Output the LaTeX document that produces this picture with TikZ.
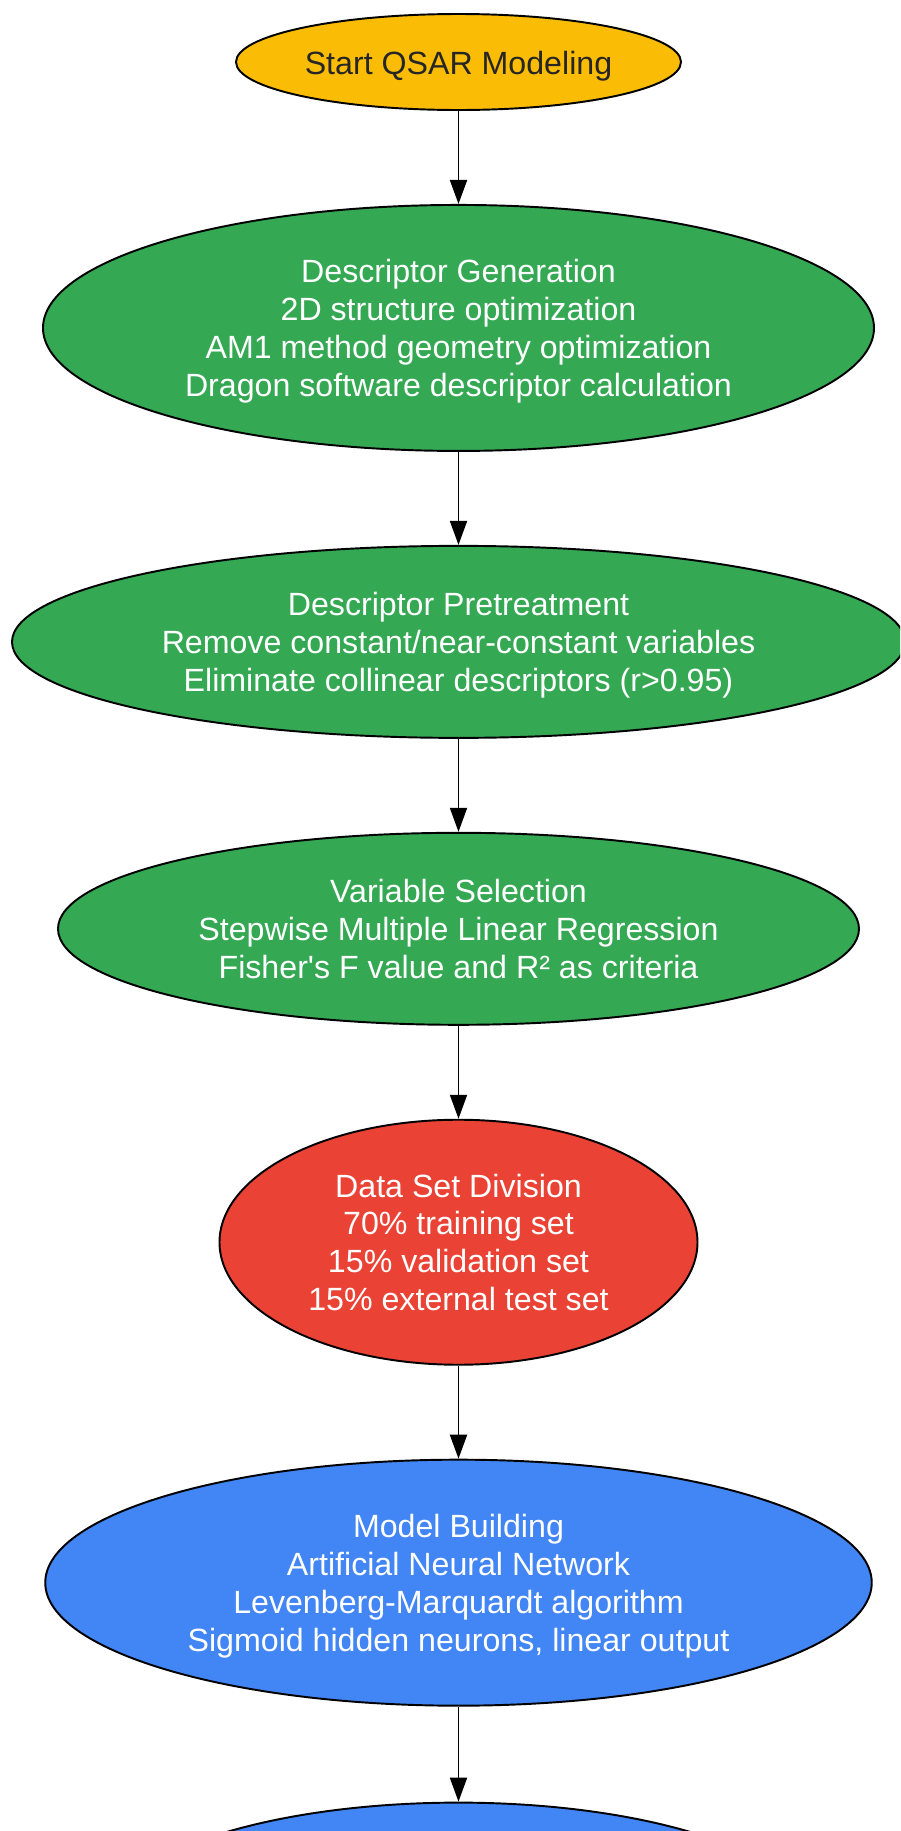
\documentclass[tikz,border=0pt]{standalone}
\usepackage{fontspec}
\setmainfont{Liberation Sans}
\usepackage{xcolor}
\usepackage{tikz}
\usetikzlibrary{positioning, shapes.geometric, arrows.meta}

\definecolor{startyellow}{HTML}{FBBC05}
\definecolor{prepgreen}{HTML}{34A853}
\definecolor{splitred}{HTML}{EA4335}
\definecolor{modelblue}{HTML}{4285F4}

\begin{document}
\begin{tikzpicture}[
      node distance=1.86cm,
      base/.style={ellipse, draw=black, line width=1.1pt, inner sep=0pt, align=center,
        font=\fontsize{18.3}{21.5}\selectfont, text=white},
      startnode/.style={base, fill=startyellow, text=black!85, minimum width=8.9cm, minimum height=1.92cm,
        execute at begin node={\rule{0pt}{18.5pt}}},
      prep/.style={base, fill=prepgreen},
      split/.style={base, fill=splitred},
      model/.style={base, fill=modelblue},
      arrow/.style={line width=1.1pt, -{Triangle[length=0.48cm, width=0.34cm]}}
    ]

    % Page frame
    \useasboundingbox (0,0) rectangle (18,-36.62);
    \clip (0,0) rectangle (18,-36.62);

    % Start node
    \node[startnode] (start) at (9.17,-1.24) {Start QSAR Modeling};

    % Descriptor steps
    \node[prep, below=of start, minimum width=16.62cm, minimum height=4.92cm, text depth=-5.6pt] (gen)
      {Descriptor Generation\\2D structure optimization\\AM1 method geometry optimization\\Dragon software descriptor calculation};
    \node[prep, below=of gen, minimum width=17.86cm, minimum height=3.84cm, text depth=0pt] (pretreat)
      {Descriptor Pretreatment\\Remove constant/near-constant variables\\Eliminate collinear descriptors (r>0.95)};
    \node[prep, below=of pretreat, minimum width=16.02cm, minimum height=3.84cm] (select)
      {Variable Selection\\Stepwise Multiple Linear Regression\\Fisher\textquotesingle s F value and R² as criteria};

    % Data split
    \node[split, below=of select, minimum width=9.56cm, minimum height=4.9cm] (split)
      {Data Set Division\\70\% training set\\15\% validation set\\15\% external test set};

    % Model nodes
    \node[model, below=of split, minimum width=16.53cm, minimum height=4.92cm, text depth=-2.1pt] (build)
      {Model Building\\Artificial Neural Network\\Levenberg-Marquardt algorithm\\Sigmoid hidden neurons, linear output};
    \node[model, below=1.9cm of build, minimum width=14.3cm, minimum height=4.92cm] (next) {};

    % Arrows
    \draw[arrow] (start) -- (gen);
    \draw[arrow] (gen) -- (pretreat);
    \draw[arrow] (pretreat) -- (select);
    \draw[arrow] (select) -- (split);
    \draw[arrow] (split) -- (build);
    \draw[arrow] (build) -- (next);

  \end{tikzpicture}
\end{document}
